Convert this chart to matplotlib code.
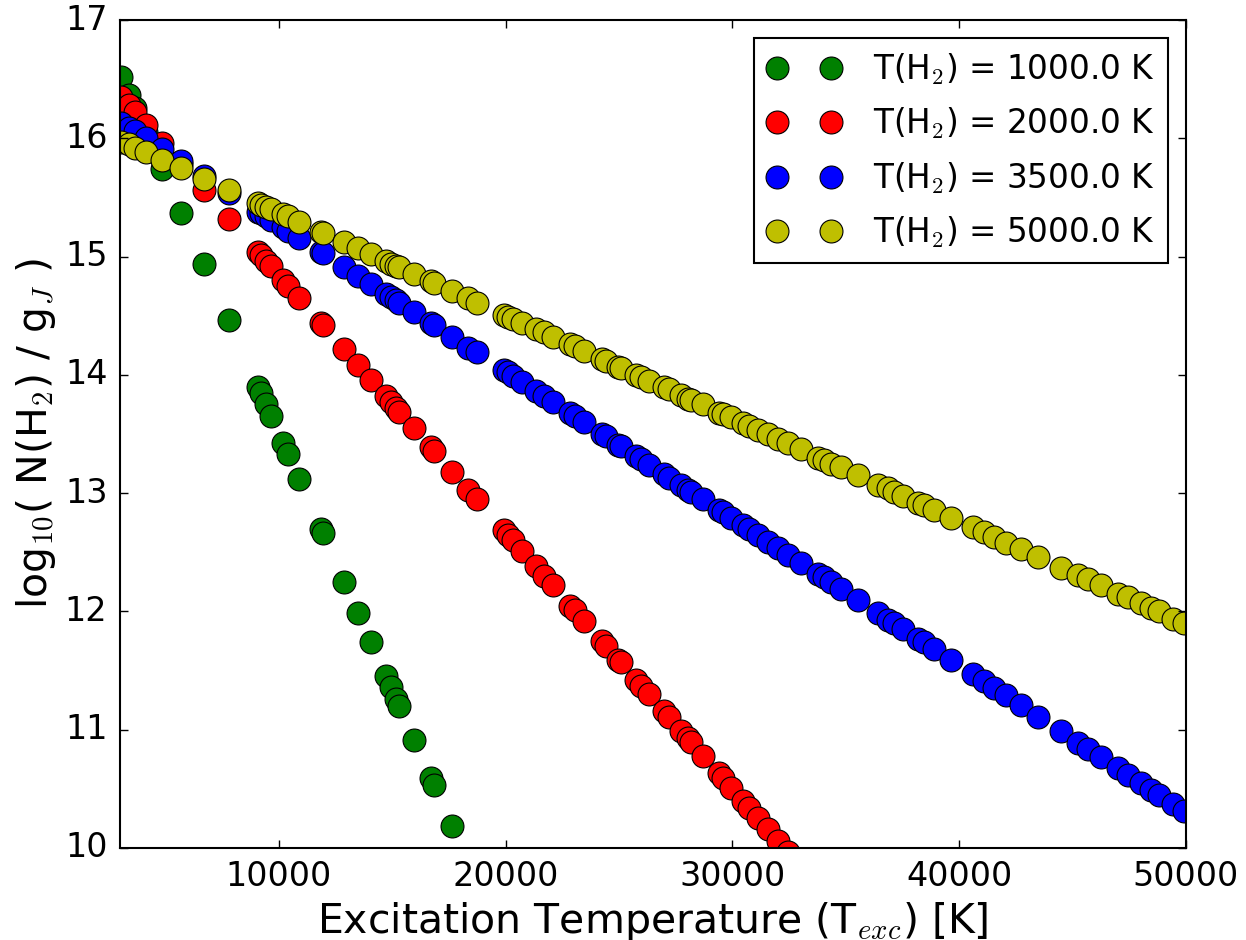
import matplotlib
matplotlib.use("Agg")
import matplotlib.pyplot as plt

plt.style.use("classic")

# excitation energies of the levels, shared by every curve [K]
T_EXC = [3050, 3380, 3650, 4130, 4850, 5680, 6690, 7790, 9070, 9200,
         9430, 9650, 10180, 10400, 10880, 11850, 11940, 12870, 13490, 14060,
         14720, 14940, 15160, 15290, 15960, 16700, 16840, 17630, 18340, 18730,
         19930, 20100, 20320, 20720, 21340, 21690, 22090, 22840, 23060, 23460,
         24250, 24430, 24960, 25090, 25750, 25970, 26320, 26980, 27200, 27730,
         28040, 28180, 28700, 29410, 29590, 29940, 30470, 30730, 31130, 31570,
         32010, 32460, 33030, 33780, 34040, 34350, 34790, 35540, 36430, 36870,
         37130, 37530, 38190, 38460, 38900, 39650, 40620, 41100, 41540, 42070,
         42740, 43490, 44500, 45250, 45690, 46260, 47010, 47460, 48030, 48470,
         48820, 49440, 49930]

# log10(N/g) (only the points inside the frame)
LOGN_1000 = [16.52, 16.37, 16.26, 16.05, 15.74, 15.37, 14.94, 14.46, 13.90, 13.85,
             13.75, 13.65, 13.42, 13.33, 13.12, 12.70, 12.66, 12.25, 11.99, 11.74,
             11.45, 11.36, 11.26, 11.20, 10.91, 10.59, 10.53, 10.19, 9.88]

LOGN_2000 = [16.35, 16.28, 16.22, 16.11, 15.96, 15.78, 15.56, 15.32, 15.04, 15.01,
             14.96, 14.92, 14.80, 14.75, 14.65, 14.44, 14.42, 14.22, 14.08, 13.96,
             13.82, 13.77, 13.72, 13.69, 13.55, 13.39, 13.36, 13.18, 13.03, 12.95,
             12.69, 12.65, 12.60, 12.51, 12.38, 12.30, 12.22, 12.05, 12.01, 11.92,
             11.75, 11.71, 11.59, 11.57, 11.42, 11.37, 11.30, 11.16, 11.11, 10.99,
             10.93, 10.90, 10.78, 10.63, 10.59, 10.51, 10.40, 10.34, 10.25, 10.16,
             10.06, 9.97, 9.84]

LOGN_3500 = [16.13, 16.09, 16.06, 16.00, 15.91, 15.81, 15.68, 15.54, 15.38, 15.37,
             15.34, 15.31, 15.25, 15.22, 15.16, 15.04, 15.03, 14.91, 14.84, 14.77,
             14.68, 14.66, 14.63, 14.61, 14.53, 14.44, 14.42, 14.32, 14.23, 14.19,
             14.04, 14.02, 13.99, 13.94, 13.86, 13.82, 13.77, 13.68, 13.65, 13.60,
             13.50, 13.48, 13.41, 13.40, 13.31, 13.29, 13.24, 13.16, 13.13, 13.07,
             13.03, 13.01, 12.95, 12.86, 12.84, 12.79, 12.73, 12.70, 12.65, 12.59,
             12.54, 12.48, 12.41, 12.32, 12.29, 12.25, 12.19, 12.10, 11.99, 11.93,
             11.90, 11.85, 11.77, 11.74, 11.68, 11.59, 11.47, 11.41, 11.35, 11.29,
             11.21, 11.11, 10.99, 10.89, 10.84, 10.77, 10.68, 10.62, 10.55, 10.49,
             10.45, 10.37, 10.31]

LOGN_5000 = [15.97, 15.95, 15.92, 15.88, 15.82, 15.75, 15.66, 15.56, 15.45, 15.44,
             15.42, 15.40, 15.36, 15.34, 15.29, 15.21, 15.20, 15.12, 15.07, 15.02,
             14.96, 14.94, 14.92, 14.91, 14.85, 14.79, 14.78, 14.71, 14.65, 14.61,
             14.51, 14.49, 14.47, 14.44, 14.39, 14.36, 14.32, 14.26, 14.24, 14.20,
             14.13, 14.12, 14.07, 14.06, 14.00, 13.98, 13.95, 13.90, 13.88, 13.83,
             13.80, 13.79, 13.75, 13.68, 13.67, 13.64, 13.59, 13.57, 13.53, 13.50,
             13.46, 13.42, 13.37, 13.30, 13.28, 13.25, 13.22, 13.15, 13.07, 13.04,
             13.01, 12.98, 12.92, 12.90, 12.86, 12.79, 12.71, 12.67, 12.63, 12.58,
             12.53, 12.46, 12.37, 12.31, 12.27, 12.22, 12.15, 12.12, 12.07, 12.03,
             12.00, 11.94, 11.90]

T_GAS = [1000.0, 2000.0, 3500.0, 5000.0]
COLORS = ["g", "r", "b", "y"]
SERIES = [LOGN_1000, LOGN_2000, LOGN_3500, LOGN_5000]

fig = plt.figure(figsize=(12.46, 9.4), dpi=100, facecolor="w")
ax = fig.add_axes([0.0963, 0.0979, 0.8555, 0.8808])

for tg, col, logn in zip(T_GAS, COLORS, SERIES):
    ax.plot(T_EXC[:len(logn)], logn, "o", color=col, ms=16.5,
            mec="k", mew=0.8, label="T(H$_2$) = %.1f K" % tg)

ax.set_xlim(3000, 50000)
ax.set_ylim(10, 17)
ax.set_xticks([10000, 20000, 30000, 40000, 50000])
ax.tick_params(labelsize=24, pad=9, length=6, width=1)
for sp in ax.spines.values():
    sp.set_linewidth(1.5)

ax.set_xlabel("Excitation Temperature (T$_{exc}$) [K]", fontsize=29.5)
ax.set_ylabel("log$_{10}$( N(H$_2$) / g$_J$ )", fontsize=29.5)

leg = ax.legend(loc="upper right", numpoints=2, fontsize=23.5, handlelength=2.25,
                handletextpad=1.0, labelspacing=0.58, borderaxespad=0.55)
leg.get_frame().set_linewidth(1.5)

fig.savefig("out.png", dpi=100, facecolor="w")
